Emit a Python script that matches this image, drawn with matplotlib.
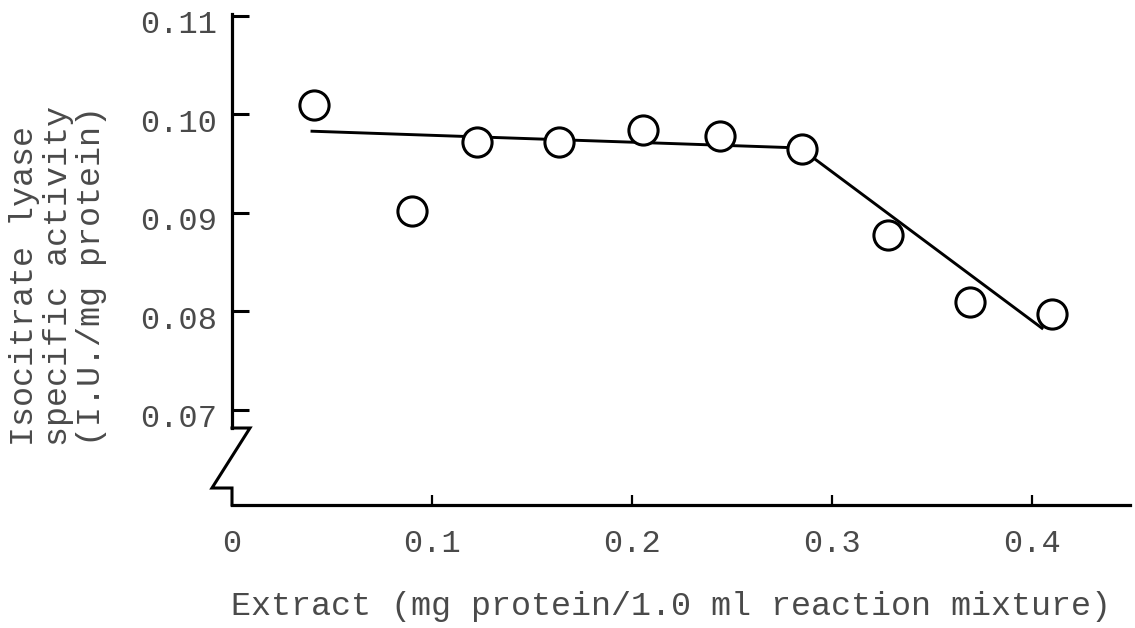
import numpy as np
import matplotlib.pyplot as plt
from matplotlib.transforms import ScaledTranslation

# ---------------- data ----------------
extract_mg = [0.041, 0.090, 0.1225, 0.1635, 0.2055, 0.244, 0.285, 0.328, 0.369, 0.410]
activity = [0.1010, 0.0902, 0.0972, 0.0972, 0.0984, 0.0978, 0.0965, 0.0878, 0.0810, 0.0797]

# hand-drawn fitted line (two segments)
fit_x = [0.040, 0.284, 0.405]
fit_y = [0.0983, 0.0966, 0.0783]

x_ticks = [0, 0.1, 0.2, 0.3, 0.4]
x_ticklabels = ['0', '0.1', '0.2', '0.3', '0.4']
y_ticks = [0.07, 0.08, 0.09, 0.10, 0.11]
y_ticklabels = ['0.07', '0.08', '0.09', '0.10', '0.11']

# ---------------- style ----------------
plt.rcParams['font.family'] = ['Liberation Mono', 'DejaVu Sans Mono']
txt_color = '#4a4a4a'

fig = plt.figure(figsize=(11.35, 6.28), dpi=100)
ax = fig.add_axes([232 / 1135, 1 - 505 / 628, 898 / 1135, 491 / 628])

ax.plot(fit_x, fit_y, color='black', lw=2.1, zorder=2)
ax.plot(extract_mg, activity, linestyle='none', marker='o', ms=21,
        mfc='white', mec='black', mew=2.2, zorder=3)

ax.set_xlim(0, 0.449)
ax.set_ylim(0.06035, 0.1102)

for s in ['top', 'right']:
    ax.spines[s].set_visible(False)
ax.spines['bottom'].set_linewidth(2.3)
ax.spines['left'].set_linewidth(2.3)
ax.spines['left'].set_bounds(0.0682, 0.1102)

# broken-axis zigzag at the bottom of the y axis (axes coords)
zz_x = [0, 0.020, -0.0223, 0, 0]
zz_y = [0.1568, 0.1568, 0.0346, 0.0346, 0]
ax.plot(zz_x, zz_y, transform=ax.transAxes, color='black', lw=2.2,
        clip_on=False, solid_joinstyle='miter')

ax.set_xticks(x_ticks)
ax.set_xticklabels(x_ticklabels)
ax.set_yticks(y_ticks)
ax.set_yticklabels(y_ticklabels)
ax.tick_params(axis='x', direction='in', length=7, width=1.6, pad=17,
               labelsize=23, labelcolor=txt_color)
ax.tick_params(axis='y', direction='in', length=12, width=2.2, pad=11,
               labelsize=23, labelcolor=txt_color)
ax.xaxis.get_major_ticks()[0].tick1line.set_visible(False)

# typewritten labels sit a little below their ticks
off = ScaledTranslation(0, -6 / 100, fig.dpi_scale_trans)
for lab in ax.get_yticklabels():
    lab.set_transform(lab.get_transform() + off)

fig.text(0.5 * (232 + 1110) / 1135, 1 - 606 / 628,
         'Extract (mg protein/1.0 ml reaction mixture)',
         ha='center', va='center', fontsize=24, color=txt_color)

fig.text(58 / 1135, 1 - 446 / 628,
         'Isocitrate lyase\nspecific activity\n(I.U./mg protein)',
         rotation=90, ha='center', va='bottom', multialignment='left',
         fontsize=24, color=txt_color, linespacing=1.1)

plt.savefig('out.png', dpi=100)
